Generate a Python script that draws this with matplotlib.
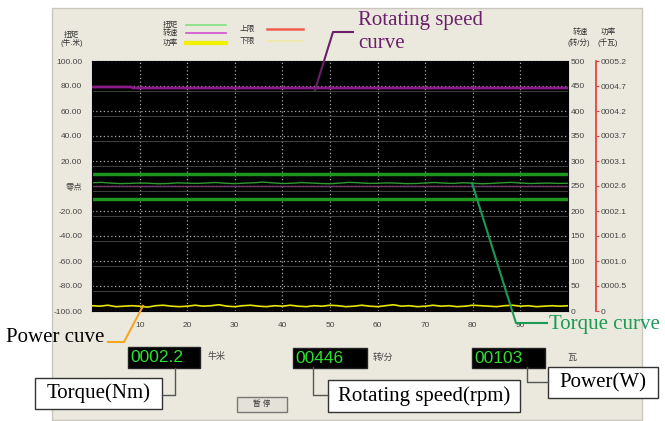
import numpy as np
import matplotlib.pyplot as plt
from matplotlib.patches import Rectangle

plt.rcParams['font.family'] = ['Liberation Sans', 'Noto Sans CJK SC']

W, H = 665, 421

# --- data ---
speed_t = [0, 8.3, 8.6, 100]
speed = [448, 448, 446, 446]          # rpm

torque = [2.6, 2.9, 2.3, 1.9, 2.1, 2.4, 2.2, 1.8, 2.0, 2.5, 2.3, 2.1, 2.4,
          2.8, 2.2, 1.9, 2.3, 2.6, 3.1, 2.5, 2.0, 2.2, 2.7, 2.4, 2.0, 1.8,
          2.3, 2.9, 2.6, 2.1, 2.2, 2.5, 2.3, 1.9, 2.0, 2.4, 2.8, 2.3, 2.1,
          2.6, 2.2, 1.8, 2.1, 2.5, 2.9, 2.4, 2.0, 2.2, 2.3, 2.1, 2.2]   # Nm
torque_upper = 10
torque_lower = -10

power = [0.11, 0.10, 0.12, 0.09, 0.10, 0.11, 0.10, 0.08, 0.11, 0.12, 0.10,
         0.09, 0.10, 0.12, 0.10, 0.11, 0.13, 0.10, 0.09, 0.11, 0.12, 0.10,
         0.09, 0.11, 0.10, 0.12, 0.10, 0.09, 0.11, 0.10, 0.12, 0.11, 0.09,
         0.10, 0.12, 0.10, 0.09, 0.11, 0.13, 0.10, 0.11, 0.09, 0.10, 0.12,
         0.10, 0.11, 0.09, 0.10, 0.12, 0.11, 0.10, 0.09, 0.11, 0.12, 0.10,
         0.11, 0.09, 0.10, 0.11, 0.10, 0.11]  # kW

time_ticks = [10, 20, 30, 40, 50, 60, 70, 80, 90]
torque_ticks = [100, 80, 60, 40, 20, 0, -20, -40, -60, -80, -100]
torque_labels = ['100.00', '80.00', '60.00', '40.00', '20.00', '零点',
                 '-20.00', '-40.00', '-60.00', '-80.00', '-100.00']
speed_ticks = [0, 50, 100, 150, 200, 250, 300, 350, 400, 450, 500]
power_max = 5.2
power_labels = ['0', '0000.5', '0001.0', '0001.6', '0002.1', '0002.6',
                '0003.1', '0003.7', '0004.2', '0004.7', '0005.2']

readouts = ['0002.2', '00446', '00103']
units = ['牛米', '转/分', '瓦']

fig = plt.figure(figsize=(6.65, 4.21), dpi=100)
fig.patch.set_facecolor('white')

# background panel (pixel coords, y down)
bg = fig.add_axes([0, 0, 1, 1], zorder=0)
bg.set_xlim(0, W)
bg.set_ylim(H, 0)
bg.axis('off')
bg.add_patch(Rectangle((52, 8), 590, 412, facecolor='#ebe9dd',
                       edgecolor='#c9c7bd', lw=1))

# main plot
ax = fig.add_axes([92 / W, 1 - 311 / H, 476 / W, 250 / H], zorder=1)
ax.set_facecolor('black')
ax.set_xlim(0, 100)
ax.set_ylim(-100, 100)
ax.set_xticks(time_ticks)
ax.set_yticks(torque_ticks, torque_labels)
ax.set_yticks(np.array(torque_ticks[1:-1]) - 4, minor=True)
ax.tick_params(which='both', length=0, labelsize=6, labelcolor='#444444')
ax.tick_params(axis='y', pad=7)
ax.tick_params(axis='x', pad=8)
ax.grid(which='major', color='#aaaaaa', ls=(0, (1, 2)), lw=0.9)
ax.grid(which='minor', axis='y', color='#4a4a4a', ls='-', lw=0.6)
for s in ax.spines.values():
    s.set_color('black')

t_torque = np.linspace(0, 100, len(torque))
ax.axhline(torque_upper, color='#1e951e', lw=2.5)
ax.axhline(torque_lower, color='#1e951e', lw=2.5)
ax.axhline(0, color='#6e3a6e', lw=1)
ax.plot(t_torque, torque, color='#2e9a2e', lw=1)

# speed axis
ax2 = ax.twinx()
ax2.set_ylim(0, 500)
ax2.set_yticks(speed_ticks)
ax2.tick_params(length=0, labelsize=6, labelcolor='#444444', pad=2)
for s in ax2.spines.values():
    s.set_visible(False)
ax2.plot(speed_t, speed, color='#8a1c8a', lw=2)

# power axis
ax3 = ax.twinx()
ax3.set_ylim(0, power_max)
ax3.set_yticks(np.linspace(0, power_max, len(power_labels)), power_labels)
for s in ax3.spines.values():
    s.set_visible(False)
ax3.spines['right'].set_visible(True)
ax3.spines['right'].set_position(('axes', 1 + 28 / 476))
ax3.spines['right'].set_color('#e8453c')
ax3.spines['right'].set_linewidth(1.3)
ax3.tick_params(length=2.5, color='#e8453c', labelsize=6,
                labelcolor='#444444', pad=1)
t_power = np.linspace(0, 100, len(power))
ax3.plot(t_power, power, color='#e6e600', lw=1.2)

# overlay for labels / callouts
ov = fig.add_axes([0, 0, 1, 1], zorder=5)
ov.set_xlim(0, W)
ov.set_ylim(H, 0)
ov.axis('off')
ov.patch.set_alpha(0)

small = dict(fontsize=5.5, color='#333333', ha='center', va='center')
ov.text(71, 35, '扭矩', **small)
ov.text(72, 43, '(牛.米)', **small)
ov.text(580, 32, '转速', **small)
ov.text(579, 43, '(转/分)', **small)
ov.text(608, 32, '功率', **small)
ov.text(608, 43, '(千瓦)', **small)

# legend
leg = [('扭矩', '#7fe07f', 1.2, 170, 25, 186, 226),
       ('转速', '#d050d0', 1.2, 170, 33, 186, 226),
       ('功率', '#f0f000', 3.0, 170, 43, 186, 226),
       ('上限', '#f06050', 1.8, 247, 29, 267, 303),
       ('下限', '#f3e8a8', 1.2, 247, 41, 267, 303)]
for name, c, lw, tx, ty, x0, x1 in leg:
    ov.text(tx, ty, name, **small)
    ov.plot([x0, x1], [ty, ty], color=c, lw=lw)

serif = dict(family='Liberation Serif', fontsize=15)

# callouts
purple = '#6b1f6b'
ov.plot([315, 333, 353], [90, 32, 32], color=purple, lw=1.5)
ov.text(358, 20, 'Rotating speed', color=purple, va='center', **serif)
ov.text(358, 43, 'curve', color=purple, va='center', **serif)

green = '#1a9a55'
ov.plot([472, 516, 547], [183, 323, 323], color=green, lw=1.5)
ov.text(549, 324, 'Torque curve', color=green, va='center', **serif)

ov.plot([108, 124, 143], [342, 342, 306], color='#f5a623', lw=1.5)
ov.text(6, 337, 'Power cuve', color='black', va='center', **serif)

# digital readouts
boxes = [(128, 347, 72, 21, 208), (293, 348, 74, 20, 373), (472, 348, 73, 20, 567)]
for (bx, by, bw, bh, ux), val, unit in zip(boxes, readouts, units):
    ov.add_patch(Rectangle((bx, by), bw, bh, facecolor='black', edgecolor='#222222'))
    ov.text(bx + 2, by + bh / 2 + 0.5, val, color='#2ee02e', fontsize=12.5,
            ha='left', va='center')
    ov.text(ux, by + bh / 2 - 1, unit, fontsize=6.5, color='#444444',
            ha='left', va='center')

# label boxes
labels = [('Torque(Nm)', (35, 378, 127, 31), [(162, 395), (175, 395), (175, 368)]),
          ('Rotating speed(rpm)', (328, 380, 192, 32), [(328, 395), (313, 395), (313, 367)]),
          ('Power(W)', (548, 367, 110, 31), [(548, 382), (527, 382), (527, 367)])]
for text, (bx, by, bw, bh), conn in labels:
    xs, ys = zip(*conn)
    ov.plot(xs, ys, color='#555555', lw=1)
    ov.add_patch(Rectangle((bx, by), bw, bh, facecolor='white', edgecolor='#333333', lw=1))
    ov.text(bx + bw / 2, by + bh / 2, text, ha='center', va='center',
            color='black', **serif)

# pause button
ov.add_patch(Rectangle((237, 397), 50, 15, facecolor='#e4e2d8', edgecolor='#777777', lw=1))
ov.text(262, 404.5, '暂 停', fontsize=5.5, color='#333333', ha='center', va='center')

fig.savefig('out.png', dpi=100)
